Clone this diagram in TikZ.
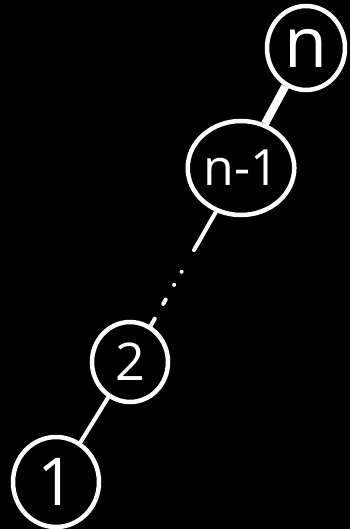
\documentclass[tikz,border=0pt]{standalone}
\usepackage{fontspec}
\setmainfont{Open Sans}
\usetikzlibrary{shapes.geometric}
\begin{document}
\begin{tikzpicture}[x=1pt,y=-1pt,
  nodecircle/.style={ellipse,draw=white,line width=4.5pt,inner sep=0pt,text=white},
  edge/.style={draw=white,line width=4pt,line cap=round}]
\fill[black] (0,0) rectangle (350,529);
\useasboundingbox (0,0) rectangle (350,529);
\node[nodecircle,minimum width=78pt,minimum height=84pt] (n) at (306,48) {\fontsize{70}{70}\selectfont n};
\node[nodecircle,minimum width=104pt,minimum height=94pt] (n1) at (241,168) {\fontsize{50}{50}\selectfont n-1};
\node[nodecircle,minimum width=76pt,minimum height=80pt] (two) at (130,362) {\fontsize{52}{52}\selectfont 2};
\node[nodecircle,minimum width=86pt,minimum height=90pt] (one) at (56,482) {\fontsize{66}{66}\selectfont 1};
\draw[edge,line width=8pt,line cap=butt] (n) -- (n1);
\draw[edge,dash pattern=on 44pt off 25pt on 0pt off 15pt on 0pt off 17pt on 5pt off 17pt on 40pt off 200pt] (n1) -- (two);
\draw[edge] (two) -- (one);
\end{tikzpicture}
\end{document}
